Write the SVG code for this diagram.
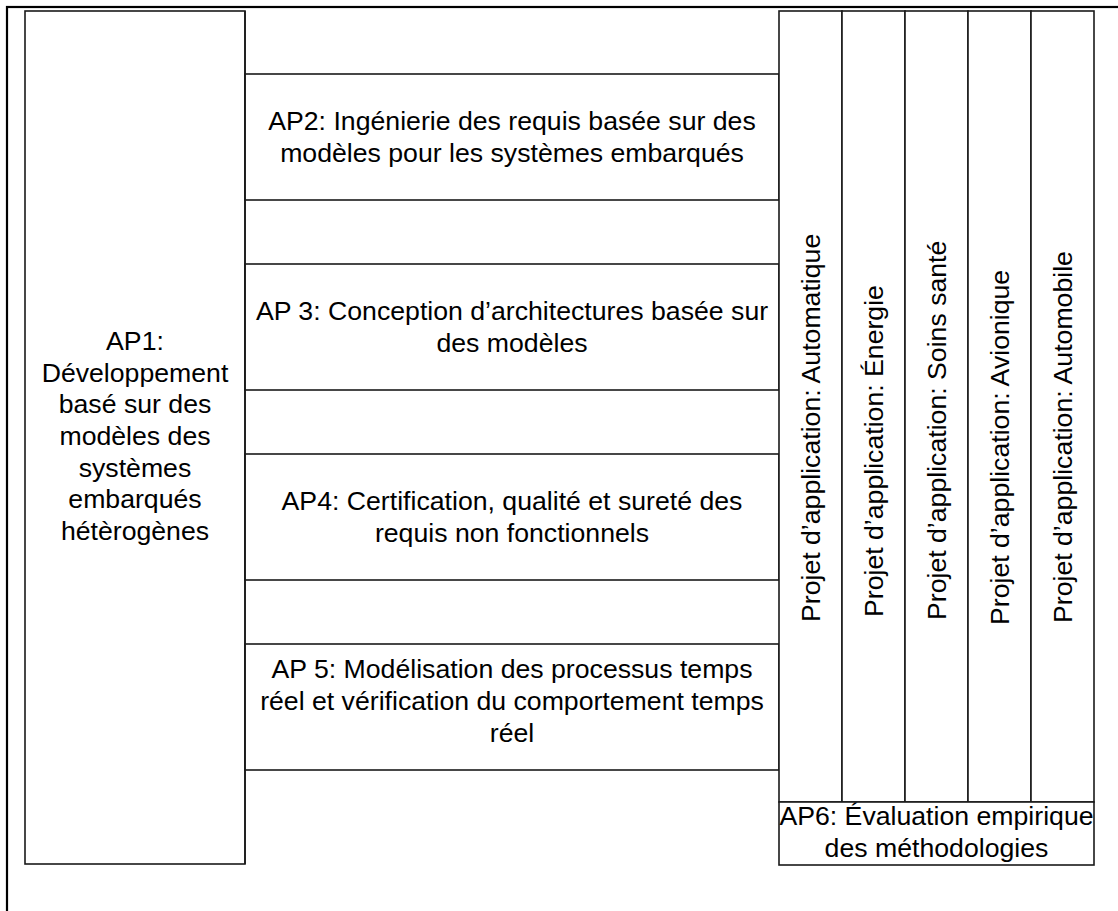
<svg xmlns="http://www.w3.org/2000/svg" width="1118" height="911" viewBox="0 0 1118 911">
<style>
.box{fill:#fff;stroke:#1a1a1a;stroke-width:1.6}
.frame{fill:none;stroke:#000;stroke-width:2.2}
.t{font-family:"Liberation Sans",Arial,sans-serif;font-size:26.67px;fill:#000;text-anchor:middle}
.v{font-family:"Liberation Sans",Arial,sans-serif;font-size:26.67px;fill:#000;text-anchor:start}
</style>
<rect width="1118" height="911" fill="#fff"/>
<rect class="frame" x="7" y="7" width="1200" height="1000"/>
<g id="AP1">
<rect class="box" x="25" y="11" width="220" height="853"/>
<text class="t" x="135" y="350">AP1:</text>
<text class="t" x="135" y="381.7">Développement</text>
<text class="t" x="135" y="413.3">basé sur des</text>
<text class="t" x="135" y="445">modèles des</text>
<text class="t" x="135" y="476.7">systèmes</text>
<text class="t" x="135" y="508.3">embarqués</text>
<text class="t" x="135" y="540">hétèrogènes</text>
</g>
<g id="AP2">
<rect class="box" x="245" y="74" width="534" height="126"/>
<text class="t" x="512" y="130">AP2: Ingénierie des requis basée sur des</text>
<text class="t" x="512" y="162">modèles pour les systèmes embarqués</text>
</g>
<g id="AP3">
<rect class="box" x="245" y="264" width="534" height="126"/>
<text class="t" x="512" y="320">AP 3: Conception d’architectures basée sur</text>
<text class="t" x="512" y="352">des modèles</text>
</g>
<g id="AP4">
<rect class="box" x="245" y="454" width="534" height="126"/>
<text class="t" x="512" y="510">AP4: Certification, qualité et sureté des</text>
<text class="t" x="512" y="542">requis non fonctionnels</text>
</g>
<g id="AP5">
<rect class="box" x="245" y="644" width="534" height="126"/>
<text class="t" x="512" y="678">AP 5: Modélisation des processus temps</text>
<text class="t" x="512" y="710">réel et vérification du comportement temps</text>
<text class="t" x="512" y="742">réel</text>
</g>
<line x1="245" y1="11" x2="245" y2="864" stroke="#1a1a1a" stroke-width="1.6"/>
<g id="P-automatique">
<rect class="box" x="779" y="11" width="63" height="791"/>
<text class="v" transform="translate(820,622) rotate(-90)">Projet d’application: Automatique</text>
</g>
<g id="P-energie">
<rect class="box" x="842" y="11" width="63" height="791"/>
<text class="v" transform="translate(883,617) rotate(-90)">Projet d’application: Énergie</text>
</g>
<g id="P-sante">
<rect class="box" x="905" y="11" width="63" height="791"/>
<text class="v" transform="translate(946,620) rotate(-90)">Projet d’application: Soins santé</text>
</g>
<g id="P-avionique">
<rect class="box" x="968" y="11" width="63" height="791"/>
<text class="v" transform="translate(1009,625) rotate(-90)">Projet d’application: Avionique</text>
</g>
<g id="P-automobile">
<rect class="box" x="1031" y="11" width="63" height="791"/>
<text class="v" transform="translate(1072,623) rotate(-90)">Projet d’application: Automobile</text>
</g>
<g id="AP6">
<rect class="box" x="779" y="802" width="315" height="63"/>
<text class="t" x="936.5" y="825">AP6: Évaluation empirique</text>
<text class="t" x="936.5" y="856.7">des méthodologies</text>
</g>
<g id="connectors"></g>
</svg>
